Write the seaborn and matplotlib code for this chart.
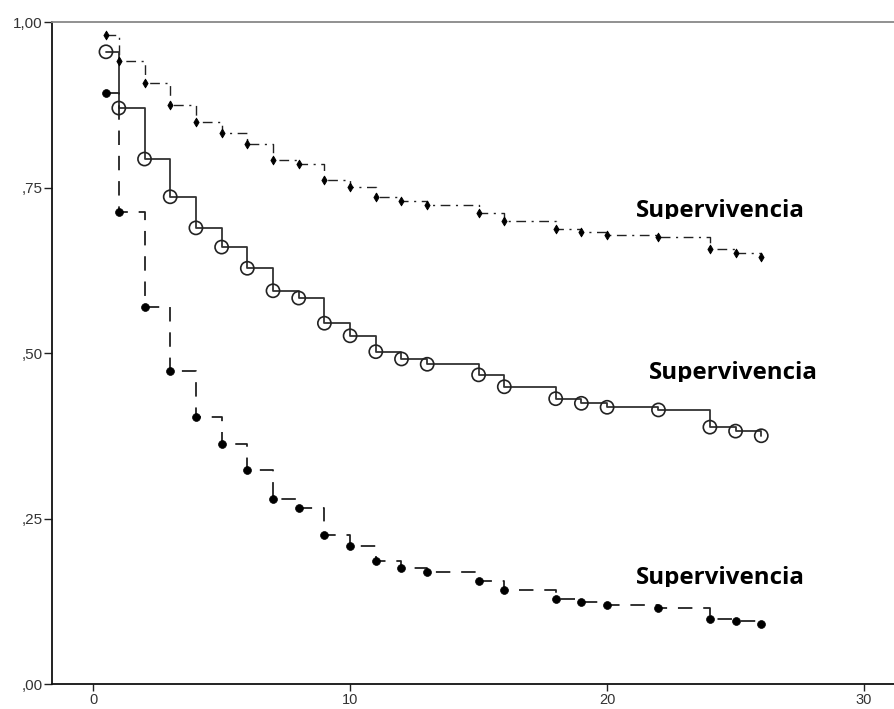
import numpy as np
import pandas as pd
import matplotlib
matplotlib.use("Agg")
import matplotlib.pyplot as plt
import seaborn as sns
from matplotlib.transforms import Bbox, TransformedBbox

# ---- data ----
time_a = [0.5, 1, 2, 3, 4, 5, 6, 7, 8, 9, 10, 11, 12, 13, 15, 16, 18, 19, 20, 22, 24, 25, 26]
surv_top = [0.980, 0.941, 0.908, 0.875, 0.849, 0.832, 0.816, 0.792, 0.785, 0.761, 0.751, 0.736,
            0.730, 0.724, 0.711, 0.699, 0.687, 0.683, 0.678, 0.675, 0.657, 0.651, 0.645]
surv_mid = [0.955, 0.870, 0.793, 0.736, 0.689, 0.660, 0.628, 0.594, 0.583, 0.545, 0.526, 0.502,
            0.491, 0.483, 0.467, 0.449, 0.431, 0.424, 0.418, 0.414, 0.388, 0.382, 0.375]
surv_bot = [0.893, 0.713, 0.569, 0.473, 0.403, 0.363, 0.323, 0.279, 0.266, 0.225, 0.208, 0.186,
            0.175, 0.169, 0.156, 0.142, 0.128, 0.124, 0.119, 0.115, 0.098, 0.095, 0.091]
series_names = ["top", "mid", "bot"]
label_text = "Supervivencia"
label_pos = [(24.4, 0.706), (24.9, 0.460), (24.4, 0.151)]
y_ticks = [0.0, 0.25, 0.50, 0.75, 1.0]
y_ticklabels = [",00", ",25", ",50", ",75", "1,00"]
x_ticks = [0, 10, 20, 30]
x_ticklabels = ["0", "10", "20", "30"]

df = pd.concat([
    pd.DataFrame({"t": time_a, "s": surv_top, "g": "top"}),
    pd.DataFrame({"t": time_a, "s": surv_mid, "g": "mid"}),
    pd.DataFrame({"t": time_a, "s": surv_bot, "g": "bot"}),
], ignore_index=True)

sns.set_style("white")
plt.rcParams["font.family"] = ["Liberation Sans", "DejaVu Sans"]

fig = plt.figure(figsize=(8.95, 7.09), dpi=100)
ax = fig.add_axes([52 / 895, 1 - 684 / 709, 1 - 52 / 895 + 0.02, (684 - 22) / 709])

styles = {
    "top": dict(ls=(0, (7, 4, 1.5, 4)), lw=1.0, color="#222222"),
    "mid": dict(ls="-", lw=1.3, color="#333333"),
    "bot": dict(ls=(0, (8, 6)), lw=1.3, color="#222222"),
}
for g in series_names:
    sub = df[df.g == g]
    sns.lineplot(data=sub, x="t", y="s", ax=ax, drawstyle="steps-post",
                 color=styles[g]["color"], linewidth=styles[g]["lw"],
                 linestyle=styles[g]["ls"], legend=False, estimator=None)

sns.scatterplot(data=df[df.g == "top"], x="t", y="s", ax=ax, marker="d", s=20,
                color="black", edgecolor="black", linewidth=0.6, legend=False, zorder=3)
sns.scatterplot(data=df[df.g == "mid"], x="t", y="s", ax=ax, marker="o", s=90,
                facecolor="none", edgecolor="#222222", linewidth=1.2, legend=False, zorder=3)
sns.scatterplot(data=df[df.g == "bot"], x="t", y="s", ax=ax, marker="o", s=32,
                color="black", edgecolor="black", linewidth=0.5, legend=False, zorder=3)

for (x, y) in label_pos:
    t = ax.text(x, y, label_text, ha="center", va="baseline", fontsize=17.4,
                fontweight="bold", family=["Open Sans", "DejaVu Sans"], color="black", zorder=5)
    clip = TransformedBbox(Bbox([[x - 10, y - 0.004], [x + 10, y + 0.1]]), ax.transData)
    t.set_clip_box(clip)
    t.set_clip_on(True)

ax.set_xlim(-1.6, 31.9)
ax.set_ylim(0, 1)
ax.set_xticks(x_ticks)
ax.set_xticklabels(x_ticklabels)
ax.set_yticks(y_ticks)
ax.set_yticklabels(y_ticklabels)
ax.set_xlabel("")
ax.set_ylabel("")
ax.tick_params(axis="both", direction="out", length=6, width=1, color="#222222",
               labelsize=11, labelcolor="#333333", left=True, bottom=True)
ax.tick_params(axis="y", pad=0.5)
ax.tick_params(axis="x", length=5, pad=1.5, labelsize=10.5)

for side in ["left", "bottom"]:
    ax.spines[side].set_color("#111111")
    ax.spines[side].set_linewidth(1.3)
ax.spines["top"].set_color("#888888")
ax.spines["top"].set_linewidth(1.3)
ax.spines["right"].set_visible(False)

fig.savefig("out.png", dpi=100, facecolor="white")
